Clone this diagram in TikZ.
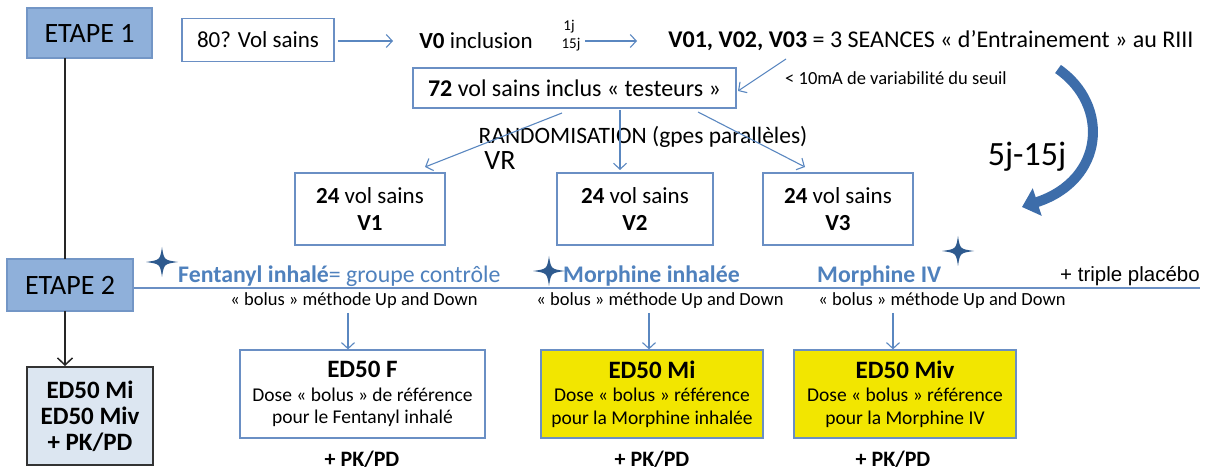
\documentclass[tikz,border=0pt]{standalone}
\usepackage{fontspec}
\setmainfont{Carlito}
\newfontfamily\arialf{Liberation Sans}
\usetikzlibrary{arrows.meta}
\definecolor{boxblue}{HTML}{6A8FC4}
\definecolor{arrblue}{HTML}{5A87C0}
\definecolor{txtblue}{HTML}{4F81BD}
\definecolor{etfill}{HTML}{8FB0DA}
\definecolor{etdraw}{HTML}{7396C6}
\definecolor{leftfill}{HTML}{DCE6F1}
\definecolor{ylw}{HTML}{F2E600}
\definecolor{starblue}{HTML}{2E5A8E}
\definecolor{bigarr}{HTML}{3D6DAA}
\newcommand{\fs}[1]{\fontsize{#1}{#1}\selectfont}
\tikzset{
  x=1pt, y=-1pt,
  etape/.style={draw=etdraw, line width=1.2pt, fill=etfill, minimum width=125pt, minimum height=50pt, inner sep=0pt, font=\fs{28}},
  bbox/.style={draw=boxblue, line width=1.3pt, fill=white, inner sep=0pt},
  plain/.style={inner sep=0pt},
  barr/.style={draw=arrblue, line width=1.1pt, -{Straight Barb[length=6pt,width=13pt]}},
  karr/.style={draw=black!85, line width=1.5pt, -{Straight Barb[length=7pt,width=15pt]}},
  sidetxt/.style={inner sep=0pt, text=txtblue, font=\fs{23.8}},
  bolus/.style={inner sep=0pt, font=\fs{18.5}},
  pkpd/.style={inner sep=0pt, font=\fs{22}\bfseries},
}
\newcommand{\fourstar}[1]{\fill[starblue,shift={#1}] (0,-15) .. controls (2,-2) .. (16,0) .. controls (2,2) .. (0,15) .. controls (-2,2) .. (-16,0) .. controls (-2,-2) .. (0,-15) -- cycle;}
\begin{document}
\begin{tikzpicture}
\useasboundingbox (0,0) rectangle (1210,470);
% Etape boxes
\node[etape] (e1) at (89.5,33) {ETAPE 1};
\node[etape, minimum width=126pt, minimum height=52pt] (e2) at (70,285) {ETAPE 2};
\node[draw=black!80, line width=1.5pt, fill=leftfill, minimum width=126pt, minimum height=98pt, inner sep=0pt, align=center, font=\fs{25}\bfseries] (lb) at (90,416) {ED50 Mi\\[1pt]ED50 Miv\\[1pt]+ PK/PD};
\coordinate (e1b) at (65,58);
\coordinate (e2t) at (65,259);
\coordinate (e2b) at (65,311);
\coordinate (lbt) at (65,366);
\draw[black!85, line width=1.5pt] (e1b) -- (e2t);
\draw[karr] (e2b) -- (lbt);
% top line
\node[bbox, minimum width=152pt, minimum height=43pt, font=\fs{23}] (b80) at (258,40) {80? Vol sains};
\node[plain, font=\fs{23}] (v0) at (476,41) {\textbf{V0} inclusion};
\node[plain, font=\fs{15}] (j1) at (569,27) {1j};
\node[plain, font=\fs{15}] (j15) at (571,45) {15j};
\node[plain, font=\fs{24}] (v01) at (931,41) {\textbf{V01, V02, V03} = 3 SEANCES « d’Entrainement » au RIII};
\coordinate (a1s) at (338,41);
\coordinate (a1e) at (393,41);
\coordinate (a2s) at (585,41);
\coordinate (a2e) at (637,41);
\draw[barr] (a1s) -- (a1e);
\draw[barr] (a2s) -- (a2e);
\node[bbox, minimum width=323pt, minimum height=40pt, font=\fs{24}] (b72) at (574.5,88) {\textbf{72} vol sains inclus « testeurs »};
\node[plain, font=\fs{18.5}] (var) at (896,78) {< 10mA de variabilité du seuil};
\coordinate (a3s) at (786,59);
\coordinate (a3e) at (738,91);
\draw[barr] (a3s) -- (a3e);
% big curved arrow
\coordinate (ca1) at (1058,69);
\coordinate (ca2) at (1022,207);
\draw[bigarr, line width=10pt, -{Triangle[length=16pt,width=28pt]}] (ca1) .. controls (1110,105) and (1105,180) .. (ca2);
\node[plain, font=\fs{34}] (j515) at (1027,157) {5j-15j};
% randomisation
\node[plain, font=\fs{23.5}] (rand) at (643,137) {RANDOMISATION (gpes parallèles)};
\node[plain, font=\fs{28}] (vr) at (500,161) {VR};
\node[bbox, minimum width=150pt, minimum height=72pt, align=center, font=\fs{23}] (g1) at (370,209) {\textbf{24} vol sains\\[4pt]\textbf{V1}};
\node[bbox, minimum width=156pt, minimum height=72pt, align=center, font=\fs{23}] (g2) at (635,209) {\textbf{24} vol sains\\[4pt]\textbf{V2}};
\node[bbox, minimum width=150pt, minimum height=72pt, align=center, font=\fs{23}] (g3) at (838,209) {\textbf{24} vol sains\\[4pt]\textbf{V3}};
\coordinate (r1s) at (562,113);
\coordinate (r1e) at (425,167);
\coordinate (r2s) at (620,110);
\coordinate (r2e) at (620,170);
\coordinate (r3s) at (698,112);
\coordinate (r3e) at (805,167);
\draw[barr] (r1s) -- (r1e);
\draw[barr] (r2s) -- (r2e);
\draw[barr] (r3s) -- (r3e);
% etape 2 line
\coordinate (lend) at (1200,288);
\draw[boxblue, line width=1.3pt] (e2.east |- lend) -- (lend);
\node[sidetxt, anchor=base west] (fen) at (178,283) {\textbf{Fentanyl inhalé}= groupe contrôle};
\node[sidetxt, anchor=base west] (mi) at (563,283) {\textbf{Morphine inhalée}};
\node[sidetxt, anchor=base west] (miv) at (817,283) {\textbf{Morphine IV}};
\node[plain, anchor=base east, font=\arialf\fs{20.5}] (tp) at (1200,282) {+ triple placébo};
\fourstar{(162,262)}
\fourstar{(549,271)}
\fourstar{(958,251)}
\node[bolus] (bo1) at (354,301) {« bolus » méthode Up and Down};
\node[bolus] (bo2) at (660,301) {« bolus » méthode Up and Down};
\node[bolus] (bo3) at (942,301) {« bolus » méthode Up and Down};
% ED50 boxes
\node[bbox, minimum width=245pt, minimum height=88pt, align=center, font=\fs{19.5}] (f) at (362.5,394) {{\fs{25}\bfseries ED50 F}\\[4pt]Dose « bolus » de référence\\[3pt]pour le Fentanyl inhalé};
\node[bbox, fill=ylw, minimum width=222pt, minimum height=88pt, align=center, font=\fs{19.5}] (m) at (652,394) {{\fs{25}\bfseries ED50 Mi}\\[4pt]Dose « bolus » référence\\[3pt]pour la Morphine inhalée};
\node[bbox, fill=ylw, minimum width=222pt, minimum height=88pt, align=center, font=\fs{19.5}] (v) at (905,394) {{\fs{25}\bfseries ED50 Miv}\\[4pt]Dose « bolus » référence\\[3pt]pour la Morphine IV};
\coordinate (d1) at (348,313);
\coordinate (d2) at (649,313);
\coordinate (d3) at (893,313);
\draw[barr] (d1) -- (d1 |- f.north);
\draw[barr] (d2) -- (d2 |- m.north);
\draw[barr] (d3) -- (d3 |- v.north);
\node[pkpd] (p1) at (362,459) {+ PK/PD};
\node[pkpd] (p2) at (652,459) {+ PK/PD};
\node[pkpd] (p3) at (893,459) {+ PK/PD};
\end{tikzpicture}
\end{document}
